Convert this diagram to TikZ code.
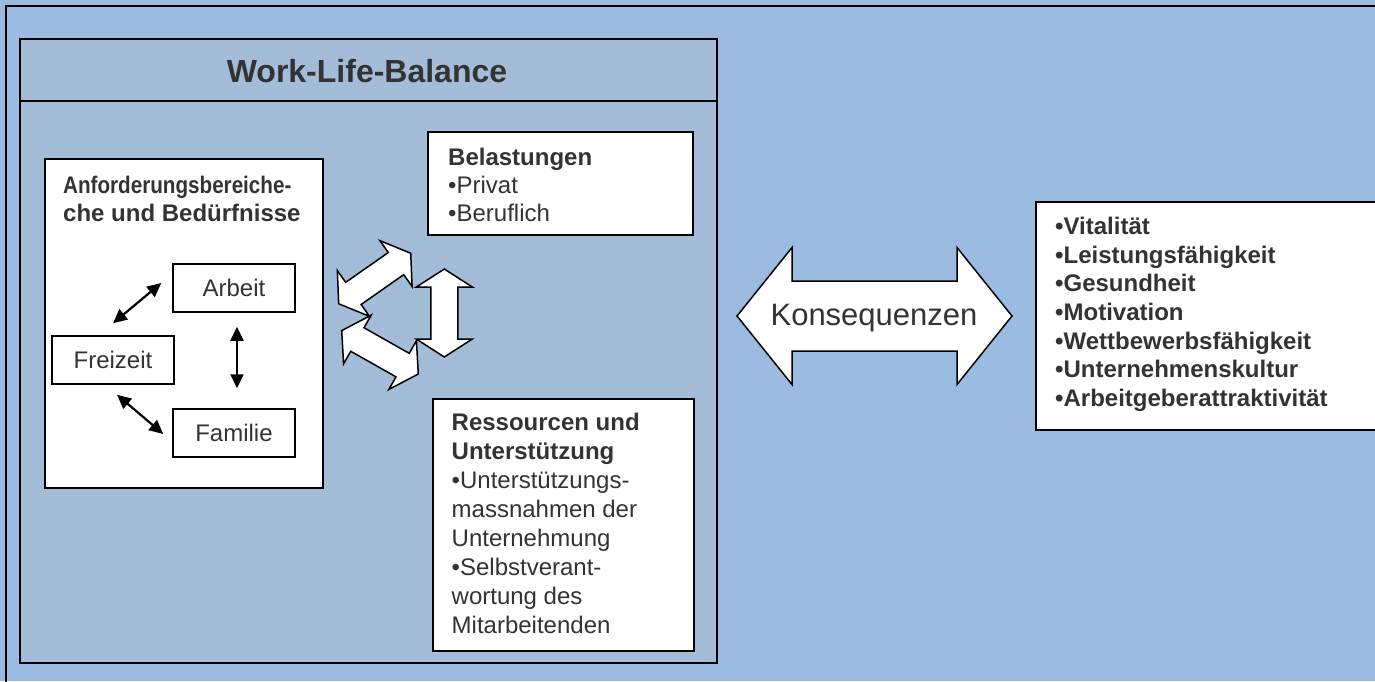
\documentclass[tikz,border=0pt]{standalone}
\usepackage{fontspec}
\setmainfont{Liberation Sans}
\usetikzlibrary{arrows.meta}
\definecolor{bgblue}{RGB}{155,188,224}
\definecolor{innerblue}{RGB}{163,188,216}
\definecolor{txtgray}{RGB}{51,51,51}
% #1 cx, #2 cy, #3 angle, #4 length, #5 head width, #6 head length, #7 shaft width
\newcommand{\blockarrow}[7]{%
  \begin{scope}[shift={(#1,#2)}, rotate=#3]
    \draw[blockarr] (-#4/2,0) -- (-#4/2+#6,#5/2) -- (-#4/2+#6,#7/2) -- (#4/2-#6,#7/2)
      -- (#4/2-#6,#5/2) -- (#4/2,0) -- (#4/2-#6,-#5/2) -- (#4/2-#6,-#7/2)
      -- (-#4/2+#6,-#7/2) -- (-#4/2+#6,-#5/2) -- cycle;
  \end{scope}}
\begin{document}
\begin{tikzpicture}[x=1pt,y=-1pt,
  txt/.style={text=txtgray, inner sep=0pt, align=left, anchor=north west},
  frame/.style={draw=black, line width=2pt},
  wbox/.style={draw=black, line width=1.8pt, fill=white, anchor=north west, inner sep=0pt},
  smallbox/.style={draw=black, line width=1.5pt, fill=white, minimum width=122pt,
    minimum height=48pt, inner sep=0pt, text=txtgray, font=\fontsize{24}{28}\selectfont},
  blockarr/.style={draw=black, line width=1.5pt, fill=white, line join=miter},
  dblarr/.style={{Triangle[length=14pt,width=13pt]}-{Triangle[length=14pt,width=13pt]},
    line width=2.2pt, draw=black}
]
\useasboundingbox (0,0) rectangle (1375,681);
\clip (0,0) rectangle (1375,681);
\fill[bgblue] (0,0) rectangle (1375,681);
\draw[frame] (6,700) -- (6,6) -- (1400,6);

% Work-Life-Balance frame
\node[draw=black, line width=2pt, fill=innerblue, anchor=north west, inner sep=0pt,
  minimum width=697pt, minimum height=624pt] (wlb) at (19,38) {};
\draw[frame] (wlb.west |- 0,101) -- (wlb.east |- 0,101);
\node[text=txtgray, font=\fontsize{32}{38}\selectfont\bfseries] (title) at (367,71) {Work-Life-Balance};

% Anforderungsbereiche
\node[wbox, minimum width=278pt, minimum height=329pt] (anf) at (44,158) {};
\node[txt, font=\fontsize{24}{28}\selectfont\bfseries] (anftxt) at (63,175.5)
  {\scalebox{0.86}[1]{Anforderungsbereiche-}\\che und Bedürfnisse};

\node[smallbox] (arbeit) at (234,288) {Arbeit};
\node[smallbox] (freizeit) at (113,360) {Freizeit};
\node[smallbox] (familie) at (234,433) {Familie};

\draw[dblarr] ([yshift=12pt]freizeit.north) -- ([xshift=-11pt,yshift=5pt]arbeit.west);
\draw[dblarr] ([xshift=3pt,yshift=-14pt]arbeit.south) -- ([xshift=3pt,yshift=20pt]familie.north);
\draw[dblarr] ([xshift=4pt,yshift=-10pt]freizeit.south) -- ([xshift=-9pt,yshift=-1pt]familie.west);

% Belastungen
\node[wbox, minimum width=265pt, minimum height=103pt] (bel) at (427,131) {};
\node[txt, font=\fontsize{24}{28}\selectfont] (beltxt) at (448,148)
  {\textbf{Belastungen}\\•Privat\\•Beruflich};

% Ressourcen
\node[wbox, minimum width=261pt, minimum height=252pt] (res) at (432,398) {};
\node[txt, font=\fontsize{24}{29}\selectfont] (restxt) at (451.5,413)
  {\textbf{Ressourcen und}\\\textbf{Unterstützung}\\•Unterstützungs-\\massnahmen der\\Unternehmung\\•Selbstverant-\\wortung des\\Mitarbeitenden};

% three block arrows
\blockarrow{374.7}{278.5}{35}{88}{56}{18}{27}
\blockarrow{380}{352.3}{-29.5}{88}{56}{18}{27}
\blockarrow{444.3}{313}{90}{88}{56}{18}{27}

% Konsequenzen
\blockarrow{874.5}{316}{0}{275}{137}{55}{70}
\node[text=txtgray, font=\fontsize{31}{36}\selectfont] (kons) at (874,318) {Konsequenzen};

% results
\node[wbox, minimum width=370pt, minimum height=228pt] (resu) at (1035,201) {};
\node[txt, font=\fontsize{24}{28.6}\selectfont\bfseries] (resutxt) at (1055,217)
  {•Vitalität\\•Leistungsfähigkeit\\•Gesundheit\\•Motivation\\•Wettbewerbsfähigkeit\\•Unternehmenskultur\\•Arbeitgeberattraktivität};
\end{tikzpicture}
\end{document}
